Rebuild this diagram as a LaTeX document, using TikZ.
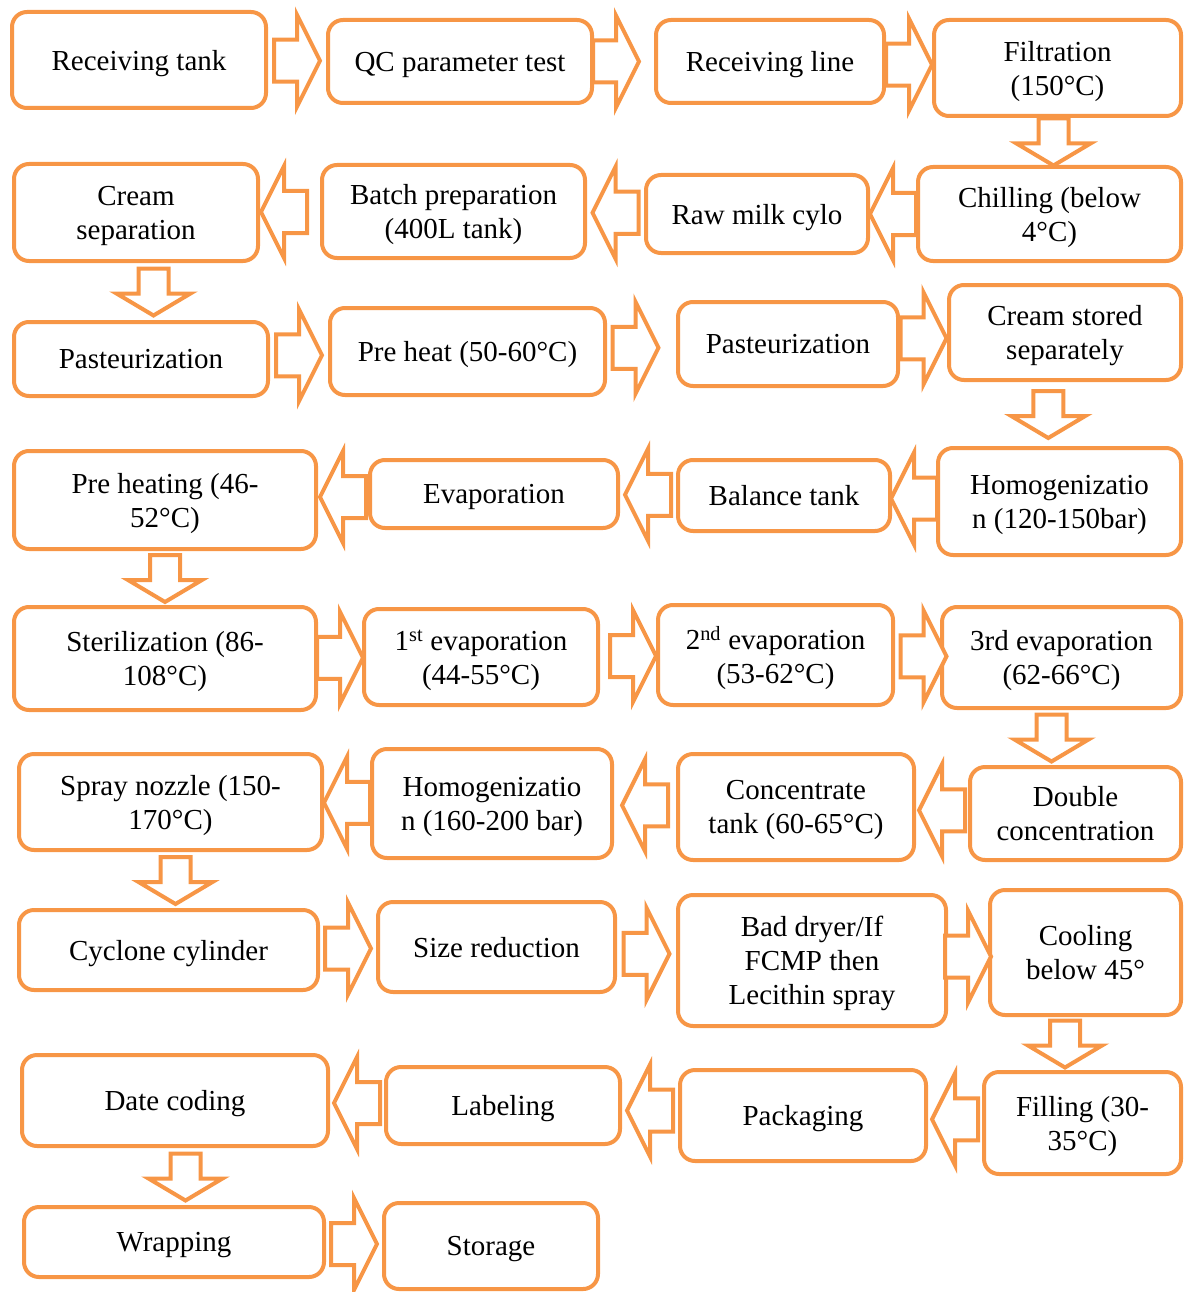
\documentclass[tikz,border=0pt]{standalone}
\usepackage{fontspec}
\setmainfont{Liberation Serif}
\usepackage{tikz}
\usetikzlibrary{calc}
\definecolor{boxorange}{HTML}{F79646}
\tikzset{
  font={\fontsize{29pt}{34pt}\selectfont},
  box/.style={draw=boxorange, line width=4pt, rounded corners=15pt, fill=white,
    inner sep=0pt, align=center, text depth=0pt},
  blk/.style={draw=boxorange, line width=4pt, fill=white, line join=miter},
  pics/rarrow/.style={code={
    \draw[blk] (-23,-21) -- (0,-21) -- (0,-46) -- (23,0) -- (0,46) -- (0,21) -- (-23,21) -- cycle;}},
  pics/darrow/.style={code={
    \draw[blk] (-15,-23) -- (15,-23) -- (15,2) -- (37,2) -- (0,24) -- (-37,2) -- (-15,2) -- cycle;}}
}
\begin{document}
\begin{tikzpicture}[x=1pt, y=-1pt]
\useasboundingbox (0,0) rectangle (1185,1292);
% row 1
\node[box, minimum width=254, minimum height=96] (rtank) at (139,60) {Receiving tank};
\node[box, minimum width=264, minimum height=83] (qc) at (460,61.5) {QC parameter test};
\node[box, minimum width=228, minimum height=83] (rline) at (770,61.5) {Receiving line};
\node[box, minimum width=247, minimum height=96] (filt) at (1057.5,68) {Filtration\\(150°C)};
% row 2
\node[box, minimum width=244, minimum height=97] (cream) at (136,212.5) {Cream\\separation};
\node[box, minimum width=263, minimum height=93] (batch) at (453.5,211.5) {Batch preparation\\(400L tank)};
\node[box, minimum width=222, minimum height=78] (rawmilk) at (757,214) {Raw milk cylo};
\node[box, minimum width=263, minimum height=94] (chill) at (1049.5,214) {Chilling (below\\4°C)};
% row 3
\node[box, minimum width=254, minimum height=74] (past1) at (141,359) {Pasteurization};
\node[box, minimum width=275, minimum height=87] (preheat) at (467.5,351.5) {Pre heat (50-60°C)};
\node[box, minimum width=220, minimum height=84] (past2) at (788,344) {Pasteurization};
\node[box, minimum width=232, minimum height=95] (cstored) at (1065,332.5) {Cream stored\\separately};
% row 4
\node[box, minimum width=302, minimum height=98] (preheating) at (165,500) {Pre heating (46-\\52°C)};
\node[box, minimum width=248, minimum height=68] (evap) at (494,494) {Evaporation};
\node[box, minimum width=212, minimum height=71] (balance) at (784,495.5) {Balance tank};
\node[box, minimum width=243, minimum height=107] (homog1) at (1059.5,501.5) {Homogenizatio\\n (120-150bar)};
% row 5
\node[box, minimum width=302, minimum height=103] (steril) at (165,658.5) {Sterilization (86-\\108°C)};
\node[box, minimum width=234, minimum height=96] (evap1) at (481,657) {1\textsuperscript{st} evaporation\\(44-55°C)};
\node[box, minimum width=235, minimum height=100] (evap2) at (775.5,655) {2\textsuperscript{nd} evaporation\\(53-62°C)};
\node[box, minimum width=239, minimum height=101] (evap3) at (1061.5,657.5) {3rd evaporation\\(62-66°C)};
% row 6
\node[box, minimum width=303, minimum height=96] (spray) at (170.5,802) {Spray nozzle (150-\\170°C)};
\node[box, minimum width=240, minimum height=109] (homog2) at (492,803.5) {Homogenizatio\\n (160-200 bar)};
\node[box, minimum width=236, minimum height=106] (conc) at (796,807) {Concentrate\\tank (60-65°C)};
\node[box, minimum width=211, minimum height=93] (double) at (1075.5,813.5) {Double\\concentration};
% row 7
\node[box, minimum width=299, minimum height=80] (cyclone) at (168.5,950) {Cyclone cylinder};
\node[box, minimum width=237, minimum height=90] (size) at (496.5,947) {Size reduction};
\node[box, minimum width=268, minimum height=131] (dryer) at (812,960.5) {Bad dryer/If\\FCMP then\\Lecithin spray};
\node[box, minimum width=191, minimum height=125] (cooling) at (1085.5,952.5) {Cooling\\below 45°};
% row 8
\node[box, minimum width=306, minimum height=91] (date) at (175,1100.5) {Date coding};
\node[box, minimum width=234, minimum height=77] (label) at (503,1105.5) {Labeling};
\node[box, minimum width=246, minimum height=91] (pack) at (803,1115.5) {Packaging};
\node[box, minimum width=197, minimum height=102] (filling) at (1082.5,1123) {Filling (30-\\35°C)};
% row 9
\node[box, minimum width=300, minimum height=70] (wrap) at (174,1242) {Wrapping};
\node[box, minimum width=214, minimum height=86] (storage) at (491,1246) {Storage};
% arrows
\pic at ($(rtank.east)!0.5!(qc.west)$) {rarrow};
\pic[xshift=-8] at ($(qc.east)!0.5!(rline.west)$) {rarrow};
\pic at ($(rline.east)!0.5!(filt.west)$) {rarrow};
\pic at ($(filt.south)!0.5!(chill.north)$) {darrow};
\pic[rotate=180] at ($(chill.west)!0.5!(rawmilk.east)$) {rarrow};
\pic[rotate=180] at ($(rawmilk.west)!0.5!(batch.east)$) {rarrow};
\pic[rotate=180, xshift=6] at ($(batch.west)!0.5!(cream.east)$) {rarrow};
\pic[xshift=15] at ($(cream.south)!0.5!(past1.north)$) {darrow};
\pic at ($(past1.east)!0.5!(preheat.west)$) {rarrow};
\pic[xshift=-6] at ($(preheat.east)!0.5!(past2.west)$) {rarrow};
\pic at ($(past2.east)!0.5!(cstored.west)$) {rarrow};
\pic[xshift=-14] at ($(cstored.south)!0.5!(homog1.north)$) {darrow};
\pic[rotate=180] at ($(homog1.west)!0.5!(balance.east)$) {rarrow};
\pic[rotate=180] at ($(balance.west)!0.5!(evap.east)$) {rarrow};
\pic[rotate=180] at ($(evap.west)!0.5!(preheating.east)$) {rarrow};
\pic at ($(preheating.south)!0.5!(steril.north)$) {darrow};
\pic at ($(steril.east)!0.5!(evap1.west)$) {rarrow};
\pic[xshift=5] at ($(evap1.east)!0.5!(evap2.west)$) {rarrow};
\pic[xshift=6] at ($(evap2.east)!0.5!(evap3.west)$) {rarrow};
\pic[xshift=-17] at ($(evap3.south)!0.5!(double.north)$) {darrow};
\pic[rotate=180] at ($(double.west)!0.5!(conc.east)$) {rarrow};
\pic[rotate=180] at ($(conc.west)!0.5!(homog2.east)$) {rarrow};
\pic[rotate=180] at ($(homog2.west)!0.5!(spray.east)$) {rarrow};
\pic[xshift=6] at ($(spray.south)!0.5!(cyclone.north)$) {darrow};
\pic at ($(cyclone.east)!0.5!(size.west)$) {rarrow};
\pic at ($(size.east)!0.5!(dryer.west)$) {rarrow};
\pic at ($(dryer.east)!0.5!(cooling.west)$) {rarrow};
\pic[xshift=-19] at ($(cooling.south)!0.5!(filling.north)$) {darrow};
\pic[rotate=180] at ($(filling.west)!0.5!(pack.east)$) {rarrow};
\pic[rotate=180] at ($(pack.west)!0.5!(label.east)$) {rarrow};
\pic[rotate=180] at ($(label.west)!0.5!(date.east)$) {rarrow};
\pic[xshift=11] at ($(date.south)!0.5!(wrap.north)$) {darrow};
\pic at ($(wrap.east)!0.5!(storage.west)$) {rarrow};
\end{tikzpicture}
\end{document}
